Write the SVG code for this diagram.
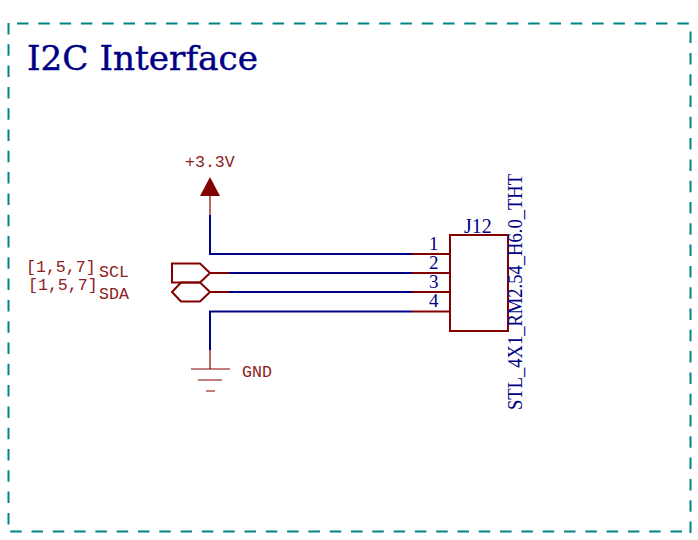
<svg xmlns="http://www.w3.org/2000/svg" width="698" height="540" viewBox="0 0 698 540">
<style>
.r{font-family:"Liberation Mono",monospace;fill:#8c2020;font-size:16.600px}
.b{font-family:"Liberation Serif",serif;fill:#000084;font-size:20px}
.d{font-family:"Liberation Serif",serif;fill:#000084;font-size:19px}
.t{font-family:"DejaVu Serif",serif;fill:#000084;font-size:34px}
.pin{stroke:#840000;stroke-width:2;fill:none}
.thin{stroke:#840000;stroke-width:1.200;fill:none}
.w{stroke:#000084;stroke-width:2;fill:none}
.s{stroke:#840000;stroke-width:2;fill:none}
.f{fill:none;stroke:#008484;stroke-width:2;stroke-dasharray:11.500 9.800}
</style>
<rect width="698" height="540" fill="#fff"/>
<g id="frame">
<path class="f" d="M8.500 23V532"/>
<path class="f" d="M17 23.500H690"/>
<path class="f" d="M690.500 533V23"/>
<path class="f" d="M682 531.500H9"/>
</g>
<g id="title"><text x="27" y="70" class="t" textLength="231" lengthAdjust="spacingAndGlyphs" stroke="#000084" stroke-width="0.400">I2C Interface</text></g>
<g id="connectors">
<path class="w" d="M210 215V254H412"/>
<path class="w" d="M229 273H412"/>
<path class="w" d="M229 292H412"/>
<path class="w" d="M210 350V311.500H412"/>
</g>
<g id="power">
<text x="185" y="167" class="r">+3.3V</text>
<path d="M210 177L200 196H220Z" fill="#840000"/>
<path class="thin" d="M210 196V215"/>
</g>
<g id="gnd">
<path class="thin" d="M210 350V369M191 369H230M198 380H222M206 391H215"/>
<text x="242" y="376.500" class="r">GND</text>
</g>
<g id="scl">
<path class="s" d="M172 263.500H200L210 273L200 282.500H172Z"/>
<path class="pin" d="M210 273H229"/>
<text x="26" y="272" class="r">[1,5,7]</text>
<text x="99" y="277" class="r">SCL</text>
</g>
<g id="sda">
<path class="s" d="M181 282.500H200L210 292L200 301.500H181L172 292Z"/>
<path class="pin" d="M210 292H229"/>
<text x="28" y="290" class="r">[1,5,7]</text>
<text x="99" y="299" class="r">SDA</text>
</g>
<g id="J12">
<rect x="450" y="235" width="58" height="96" fill="none" stroke="#840000" stroke-width="2"/>
<path class="pin" d="M412 254H450M412 273H450M412 292H450M412 311.500H450"/>
<text x="464" y="233" class="b">J12</text>
<text x="429" y="250" class="d">1</text>
<text x="429" y="269" class="d">2</text>
<text x="429" y="288" class="d">3</text>
<text x="429" y="307" class="d">4</text>
<text transform="translate(522 410) rotate(-90)" class="b" textLength="236" lengthAdjust="spacingAndGlyphs">STL_4X1_RM2.54_H6.0_THT</text>
</g>
</svg>
